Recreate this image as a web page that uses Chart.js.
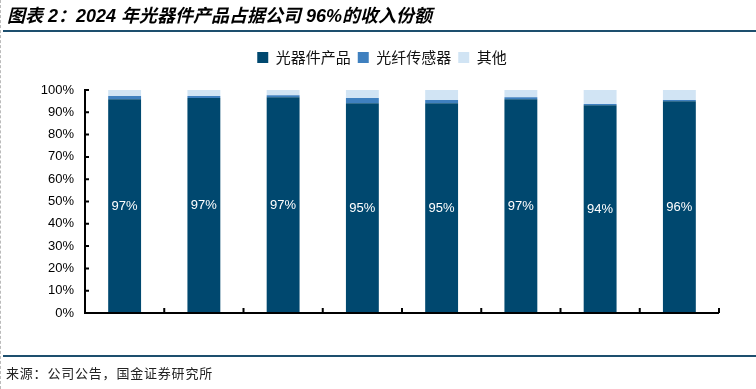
<!DOCTYPE html>
<html><head><meta charset="utf-8">
<script src="https://cdn.jsdelivr.net/npm/chart.js@4"></script>
<style>
html,body{margin:0;padding:0;background:#fff;}
#wrap{position:relative;width:756px;height:389px;overflow:hidden;}
#title{position:absolute;left:7px;top:1px;font:italic bold 18px "Liberation Sans","Noto Sans CJK SC",sans-serif;color:#000;white-space:nowrap;}
#tline{position:absolute;left:3px;right:0;top:30px;height:2px;background:#1d4f6e;}
#bline{position:absolute;left:3px;right:0;top:355px;height:2px;background:#1d4f6e;}
#src{position:absolute;left:6px;top:363px;font:13px "Noto Sans CJK SC",sans-serif;letter-spacing:0.8px;color:#222;white-space:nowrap;}
#dash{position:absolute;left:0;top:0;bottom:0;width:0;border-left:1px dashed #bbb;}
canvas{position:absolute;left:0;top:0;}
</style></head>
<body>
<div id="wrap">
<canvas id="c" width="756" height="389"></canvas>
<div id="dash"></div>
<div id="title">图表 2：2024 年光器件产品占据公司 96%的收入份额</div>
<div id="tline"></div>
<div id="bline"></div>
<div id="src">来源：公司公告，国金证券研究所</div>
</div>
<script>
const categories = ['2017','2018','2019','2020','2021','2022','2023','2024'];
const opticalDevices = [95.9, 96.4, 96.8, 94.1, 94.1, 95.9, 93.2, 95.0];
const fiberSensors = [1.4, 0.9, 0.9, 2.3, 1.4, 0.9, 0.5, 0.5];
const others = [2.7, 2.7, 2.3, 3.6, 4.5, 3.2, 6.3, 4.5];
const shareLabels = ['97%','97%','97%','95%','95%','97%','94%','96%'];
const yTicks = [0,10,20,30,40,50,60,70,80,90,100];

const legendSpace = {
  id: 'legendSpace',
  beforeInit(chart) {
    const lg = chart.legend;
    if (lg) {
      const orig = lg.fit;
      lg.fit = function() { orig.call(this); this.height += 15; };
    }
  }
};

const axisPlugin = {
  id: 'axisPlugin',
  afterDatasetsDraw(chart) {
    const ctx = chart.ctx, y = chart.scales.y;
    const a = chart.chartArea;
    const meta = chart.getDatasetMeta(0);
    ctx.save();
    ctx.fillStyle = '#fff';
    ctx.font = '13px "Liberation Sans", Arial, sans-serif';
    ctx.textAlign = 'center';
    ctx.textBaseline = 'middle';
    meta.data.forEach((bar, i) => {
      ctx.fillText(shareLabels[i], bar.x, (bar.y + bar.base) / 2);
    });
    ctx.strokeStyle = '#000';
    ctx.lineWidth = 2;
    ctx.beginPath();
    ctx.moveTo(a.left, a.top - 1);
    ctx.lineTo(a.left, a.bottom);
    ctx.lineTo(a.right, a.bottom);
    ctx.stroke();
    ctx.beginPath();
    yTicks.forEach(v => {
      const py = y.getPixelForValue(v);
      ctx.moveTo(a.left - 1, py);
      ctx.lineTo(a.left + 4, py);
    });
    const n = categories.length;
    const w = (a.right - a.left) / n;
    for (let i = 1; i <= n; i++) {
      const px = a.left + w * i;
      ctx.moveTo(px, a.bottom);
      ctx.lineTo(px, a.bottom - 5);
    }
    ctx.stroke();
    ctx.restore();
  }
};

new Chart(document.getElementById('c'), {
  type: 'bar',
  data: {
    labels: categories,
    datasets: [
      {label: '光器件产品', data: opticalDevices, backgroundColor: '#00486f'},
      {label: '光纤传感器', data: fiberSensors, backgroundColor: '#3f80bf'},
      {label: '其他', data: others, backgroundColor: '#d1e4f4'}
    ]
  },
  options: {
    responsive: false,
    animation: false,
    devicePixelRatio: 1,
    barPercentage: 0.83,
    categoryPercentage: 0.5,
    layout: {padding: {left: 8, right: 0, top: 43, bottom: 56}},
    plugins: {
      tooltip: {enabled: false},
      legend: {
        position: 'top',
        labels: {
          boxWidth: 11, boxHeight: 11, padding: 7,
          color: '#111',
          font: {size: 15, family: '"Noto Sans CJK SC", sans-serif'}
        }
      }
    },
    scales: {
      x: {
        stacked: true,
        grid: {display: false},
        border: {display: false},
        ticks: {color: '#000', font: {size: 13, family: '"Liberation Sans", Arial, sans-serif'}, padding: 11},
        afterFit(s) { s.height = 20; }
      },
      y: {
        stacked: true,
        min: 0, max: 100,
        grid: {display: false, drawTicks: false},
        border: {display: false},
        ticks: {stepSize: 10, color: '#000', padding: 11,
          font: {size: 13, family: '"Liberation Sans", Arial, sans-serif'},
          callback: v => v + '%'},
        afterFit(s) { s.width = 77; }
      },
      yRightSpace: {
        position: 'right',
        display: true,
        grid: {display: false, drawTicks: false},
        border: {display: false},
        ticks: {display: false},
        afterFit(s) { s.width = 37; }
      }
    }
  },
  plugins: [legendSpace, axisPlugin]
});
</script>
</body></html>
